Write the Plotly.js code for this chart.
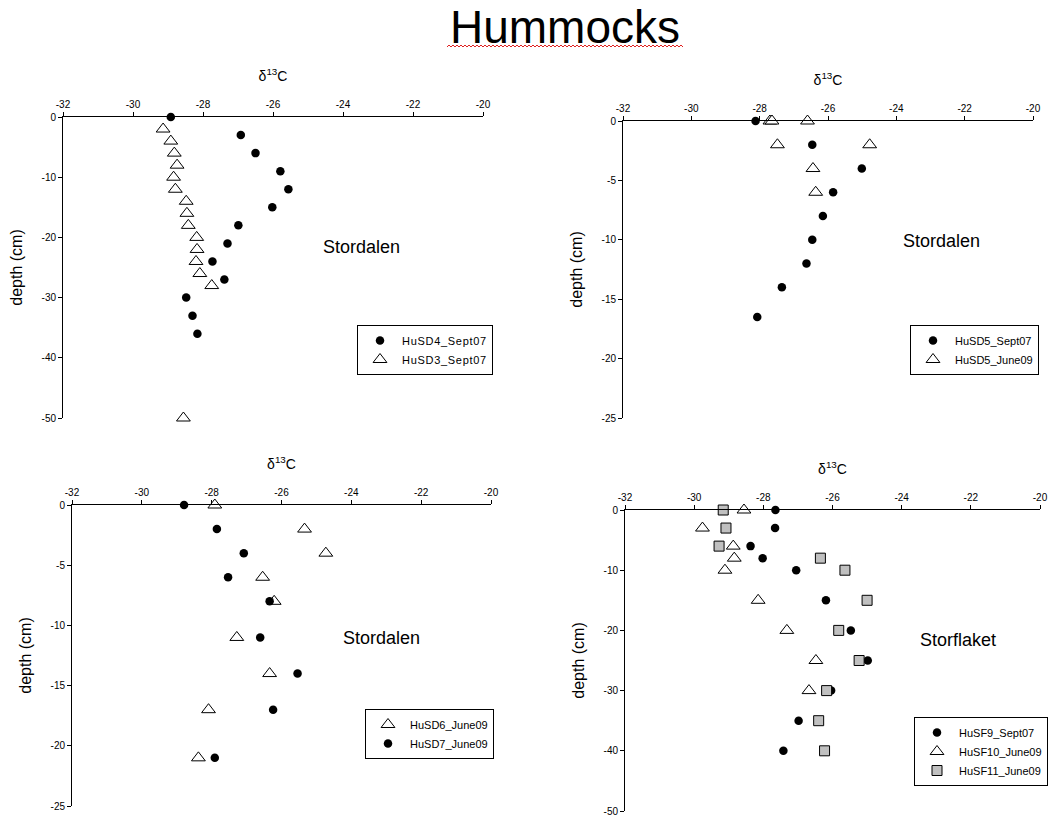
<!DOCTYPE html>
<html>
<head>
<meta charset="utf-8">
<script src="https://cdn.plot.ly/plotly-3.0.1.min.js"></script>
<style>html,body{margin:0;padding:0;background:#fff;}#chart{width:1048px;height:816px;}
.legendtext{letter-spacing:0.7px;}</style>
</head>
<body>
<div id="chart"></div>
<script>
// ---- data ----
const xTickVals = [-32, -30, -28, -26, -24, -22, -20];
const xTickText = ['-32', '-30', '-28', '-26', '-24', '-22', '-20'];
const yTick50Vals = [0, -10, -20, -30, -40, -50];
const yTick50Text = ['0', '-10', '-20', '-30', '-40', '-50'];
const yTick25Vals = [0, -5, -10, -15, -20, -25];
const yTick25Text = ['0', '-5', '-10', '-15', '-20', '-25'];

// Panel 1 (Stordalen)
const HuSD4_Sept07_x = [-28.92, -26.92, -26.50, -25.79, -25.56, -26.02, -26.99, -27.30, -27.73, -27.39, -28.48, -28.30, -28.16];
const HuSD4_Sept07_y = [0, -3, -6, -9, -12, -15, -18, -21, -24, -27, -30, -33, -36];
const HuSD3_Sept07_x = [-29.14, -28.92, -28.82, -28.74, -28.84, -28.79, -28.48, -28.46, -28.42, -28.18, -28.17, -28.20, -28.09, -27.75, -28.56];
const HuSD3_Sept07_y = [-2, -4, -6, -8, -10, -12, -14, -16, -18, -20, -22, -24, -26, -28, -50];

// Panel 2 (Stordalen)
const HuSD5_Sept07_x = [-28.12, -26.46, -25.01, -25.85, -26.15, -26.46, -26.63, -27.35, -28.07];
const HuSD5_Sept07_y = [0, -2, -4, -6, -8, -10, -12, -14, -16.5];
const HuSD5_June09_x = [-27.70, -27.64, -26.60, -27.48, -24.78, -26.44, -26.36];
const HuSD5_June09_y = [0, 0, 0, -2, -2, -4, -6];

// Panel 3 (Stordalen)
const HuSD6_June09_x = [-27.91, -25.34, -24.73, -26.54, -26.21, -27.28, -26.34, -28.09, -28.38];
const HuSD6_June09_y = [0, -2, -4, -6, -8, -11, -14, -17, -21];
const HuSD7_June09_x = [-28.79, -27.85, -27.08, -27.53, -26.34, -26.61, -25.54, -26.24, -27.91];
const HuSD7_June09_y = [0, -2, -4, -6, -8, -11, -14, -17, -21];

// Panel 4 (Storflaket)
const HuSF9_Sept07_x = [-27.65, -27.66, -28.37, -28.02, -27.05, -26.19, -25.47, -24.98, -26.04, -26.98, -27.42];
const HuSF9_Sept07_y = [0, -3, -6, -8, -10, -15, -20, -25, -30, -35, -40];
const HuSF10_June09_x = [-28.56, -29.76, -28.87, -28.84, -29.11, -28.15, -27.32, -26.48, -26.68];
const HuSF10_June09_y = [0, -3, -6, -8, -10, -15, -20, -25, -30];
const HuSF11_June09_x = [-29.16, -29.08, -29.28, -26.35, -25.64, -25.00, -25.82, -25.23, -26.17, -26.40, -26.23];
const HuSF11_June09_y = [0, -3, -6, -8, -10, -15, -20, -25, -30, -35, -40];

// ---- layout helpers ----
const W = 1048, H = 816;
const FONT = 'Arial, "Liberation Sans", sans-serif';
const px = v => v / W;
const py = v => 1 - v / H;

const circle = {symbol: 'circle', size: 8.5, color: '#000'};
const tri = {symbol: 'triangle-up', size: 12, color: '#fff', line: {color: '#000', width: 1}};
const sq = {symbol: 'square', size: 10, color: '#c0c0c0', line: {color: '#000', width: 1}};

function tr(x, y, name, marker, ax, leg) {
  return {
    type: 'scatter', mode: 'markers', x: x, y: y, name: name,
    marker: marker, xaxis: 'x' + ax, yaxis: 'y' + ax, legend: leg,
    cliponaxis: false, hoverinfo: 'x+y+name'
  };
}

const data = [
  tr(HuSD4_Sept07_x, HuSD4_Sept07_y, 'HuSD4_Sept07', circle, '', 'legend'),
  tr(HuSD3_Sept07_x, HuSD3_Sept07_y, 'HuSD3_Sept07', tri, '', 'legend'),
  tr(HuSD5_Sept07_x, HuSD5_Sept07_y, 'HuSD5_Sept07', circle, '2', 'legend2'),
  tr(HuSD5_June09_x, HuSD5_June09_y, 'HuSD5_June09', tri, '2', 'legend2'),
  tr(HuSD6_June09_x, HuSD6_June09_y, 'HuSD6_June09', tri, '3', 'legend3'),
  tr(HuSD7_June09_x, HuSD7_June09_y, 'HuSD7_June09', circle, '3', 'legend3'),
  tr(HuSF9_Sept07_x, HuSF9_Sept07_y, 'HuSF9_Sept07', circle, '4', 'legend4'),
  tr(HuSF10_June09_x, HuSF10_June09_y, 'HuSF10_June09', tri, '4', 'legend4'),
  tr(HuSF11_June09_x, HuSF11_June09_y, 'HuSF11_June09', sq, '4', 'legend4')
];

function xax(l, r, anchor) {
  return {
    domain: [px(l), px(r)], anchor: anchor, side: 'top',
    range: [-32, -20], tickvals: xTickVals, ticktext: xTickText,
    showline: true, linecolor: '#000', linewidth: 1,
    ticks: 'outside', ticklen: 4, tickcolor: '#000', tickwidth: 1,
    tickfont: {family: FONT, size: 10, color: '#000'},
    ticklabeloverflow: 'allow',
    showgrid: false, zeroline: false,
    title: {text: 'δ<sup>13</sup>C', font: {family: FONT, size: 14, color: '#000'}, standoff: 14}
  };
}
function yax(top, bottom, anchor, minV, vals, text) {
  return {
    domain: [py(bottom), py(top)], anchor: anchor,
    range: [minV, 0], tickvals: vals, ticktext: text,
    showline: true, linecolor: '#000', linewidth: 1,
    ticks: 'outside', ticklen: 4, tickcolor: '#000', tickwidth: 1,
    tickfont: {family: FONT, size: 10, color: '#000'},
    ticklabeloverflow: 'allow',
    showgrid: false, zeroline: false,
    title: {text: 'depth (cm)', font: {family: FONT, size: 16, color: '#000'}, standoff: 14}
  };
}
function leg(l, t) {
  return {
    x: px(l), y: py(t), xanchor: 'left', yanchor: 'top',
    bgcolor: '#fff', bordercolor: '#000', borderwidth: 1,
    itemwidth: 34,
    font: {family: FONT, size: 11, color: '#000'}, traceorder: 'normal'
  };
}
function label(text, x, y) {
  return {text: text, x: px(x), y: py(y), xref: 'paper', yref: 'paper',
    xanchor: 'center', yanchor: 'middle', showarrow: false,
    font: {family: FONT, size: 18, color: '#000'}};
}

// red spell-check squiggle under the title
let sqPath = '';
for (let i = 0, xx = 447; xx <= 683; i++, xx += 2) {
  const yy = 46 + (i % 2 === 0 ? 1 : -1);
  sqPath += (i === 0 ? 'M' : 'L') + px(xx).toFixed(5) + ',' + py(yy).toFixed(5);
}

const layout = {
  width: W, height: H,
  margin: {l: 0, r: 0, t: 0, b: 0, autoexpand: false},
  paper_bgcolor: '#fff', plot_bgcolor: '#fff',
  font: {family: FONT, color: '#000'},
  title: {text: 'Hummocks', x: px(565), xanchor: 'center', y: py(27), yanchor: 'middle',
    font: {family: FONT, size: 46, color: '#000'}},
  xaxis: xax(63, 483, 'y'),
  yaxis: yax(117, 418, 'x', -50, yTick50Vals, yTick50Text),
  xaxis2: xax(623, 1033, 'y2'),
  yaxis2: yax(121, 418, 'x2', -25, yTick25Vals, yTick25Text),
  xaxis3: xax(72, 491, 'y3'),
  yaxis3: yax(505, 806, 'x3', -25, yTick25Vals, yTick25Text),
  xaxis4: xax(625, 1040, 'y4'),
  yaxis4: yax(510, 811, 'x4', -50, yTick50Vals, yTick50Text),
  legend: leg(357, 325),
  legend2: leg(910, 325),
  legend3: leg(365, 709),
  legend4: leg(914, 717),
  annotations: [
    label('Stordalen', 361, 247),
    label('Stordalen', 941, 241),
    label('Stordalen', 381, 638),
    label('Storflaket', 958, 640)
  ],
  shapes: [{type: 'path', xref: 'paper', yref: 'paper', path: sqPath, line: {color: '#e02020', width: 1}}],
  showlegend: true
};

Plotly.newPlot('chart', data, layout, {displayModeBar: false, staticPlot: true});
</script>
</body>
</html>
